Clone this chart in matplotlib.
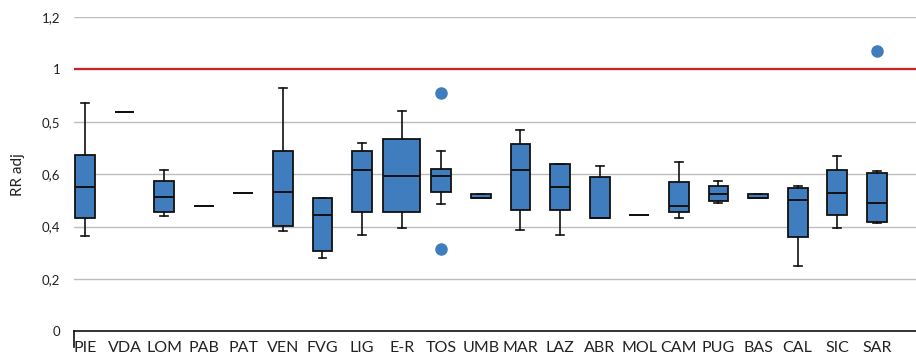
import matplotlib
matplotlib.use("Agg")
import matplotlib.pyplot as plt

plt.rcParams.update({
    "font.family": ["Lato", "DejaVu Sans"],
    "axes.spines.top": False, "axes.spines.right": False,
})

regions = ["PIE", "VDA", "LOM", "PAB", "PAT", "VEN", "FVG", "LIG", "E-R", "TOS", "UMB",
           "MAR", "LAZ", "ABR", "MOL", "CAM", "PUG", "BAS", "CAL", "SIC", "SAR"]
whislo = [0.366, 0.836, 0.442, 0.478, 0.527, 0.384, 0.279, 0.369, 0.395, 0.488, 0.508,
          0.387, 0.370, 0.434, 0.443, 0.434, 0.491, 0.508, 0.250, 0.395, 0.415]
q1 = [0.433, 0.836, 0.456, 0.478, 0.527, 0.403, 0.306, 0.456, 0.456, 0.534, 0.508,
      0.463, 0.463, 0.434, 0.443, 0.456, 0.499, 0.508, 0.361, 0.443, 0.418]
med = [0.550, 0.836, 0.514, 0.478, 0.527, 0.532, 0.443, 0.615, 0.595, 0.594, 0.510,
       0.618, 0.553, 0.434, 0.443, 0.478, 0.526, 0.510, 0.503, 0.528, 0.490]
q3 = [0.675, 0.836, 0.576, 0.478, 0.527, 0.688, 0.510, 0.688, 0.733, 0.621, 0.524,
      0.716, 0.640, 0.588, 0.443, 0.571, 0.557, 0.526, 0.549, 0.618, 0.605]
whishi = [0.873, 0.836, 0.616, 0.478, 0.527, 0.930, 0.510, 0.721, 0.841, 0.688, 0.524,
          0.768, 0.640, 0.631, 0.443, 0.647, 0.576, 0.526, 0.555, 0.670, 0.613]
outliers = {"TOS": [0.912, 0.315], "SAR": [1.069]}

y_ticks = [0, 0.2, 0.4, 0.6, 0.8, 1.0, 1.2]
y_ticklabels = ["0", "0,2", "0,4", "0,6", "0,5", "1", "1,2"]
reference_value = 1.0

blue = "#3F7DBE"

stats = []
for i, r in enumerate(regions):
    stats.append({"label": r, "whislo": whislo[i], "q1": q1[i], "med": med[i],
                  "q3": q3[i], "whishi": whishi[i], "fliers": outliers.get(r, [])})

widths = [0.93 if r == "E-R" else 0.5 for r in regions]

fig = plt.figure(figsize=(9.16, 3.56), dpi=100)
ax = fig.add_axes([0.081, 0.069, 0.919, 0.883])

ax.bxp(stats, positions=range(len(regions)), widths=widths, capwidths=0.2,
       patch_artist=True,
       boxprops=dict(facecolor=blue, edgecolor="#111111", linewidth=1.3),
       medianprops=dict(color="#111111", linewidth=1.4),
       whiskerprops=dict(color="#111111", linewidth=1.2),
       capprops=dict(color="#111111", linewidth=1.2),
       flierprops=dict(marker="o", markerfacecolor=blue, markeredgecolor=blue,
                       markersize=8),
       zorder=3)

ax.axhline(reference_value, color="#C8232C", linewidth=1.6, zorder=2)
ax.set_ylim(0, 1.2)
ax.set_xlim(-0.27, len(regions) - 0.01)
ax.set_yticks(y_ticks)
ax.set_yticklabels(y_ticklabels, fontsize=9.5, color="#222222")
ax.yaxis.grid(True, color="#BDBDBD", linewidth=1.0, zorder=0)
ax.set_axisbelow(True)
ax.tick_params(axis="y", length=0, pad=10)
ax.tick_params(axis="x", length=0, pad=7, labelsize=11.5, labelcolor="#222222")
ax.spines["left"].set_visible(False)
ax.spines["bottom"].set_color("#111111")
ax.spines["bottom"].set_linewidth(1.2)
ax.plot([0, 0], [0, -0.05], transform=ax.transAxes, color="#111111",
        linewidth=1.2, clip_on=False)
ax.set_ylabel("RR adj", fontsize=11, color="#222222", labelpad=12)

fig.savefig("out.png", dpi=100)
